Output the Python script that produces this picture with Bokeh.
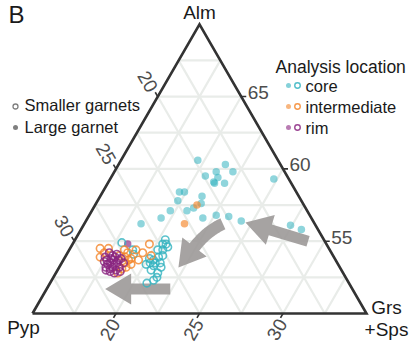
import numpy as np
from bokeh.plotting import figure
from bokeh.models import Range1d
from bokeh.embed import file_html
from bokeh.resources import INLINE
from bokeh.core.properties import value

FONT = value("Liberation Sans")

# ---------------- ternary window (Alm / Pyp / Grs+Sps, mol %) ----------------
ALM_MIN, PYP_MIN, GRS_MIN, SPAN = 50.0, 15.0, 15.0, 20.0
ALM_TICKS = [55, 60, 65]
PYP_TICKS = [20, 25, 30]
GRS_TICKS = [20, 25, 30]
GRID_STEPS = [2.5, 5.0, 7.5, 10.0, 12.5, 15.0, 17.5]

# ---------------- data ----------------
# Large garnet (filled)
large_core_alm = [60.6, 60.3, 59.5, 59.8, 59.4, 59.1, 59.0, 59.0, 59.8, 59.3, 58.4, 58.4, 57.8,
                  58.1, 57.6, 57.3, 57.1, 57.1, 56.6, 56.2, 56.6, 56.8, 56.7, 56.4, 56.1, 55.8]
large_core_pyp = [19.8, 18.3, 19.9, 19.1, 19.2, 19.6, 19.6, 19.0, 18.1, 15.9, 22.0, 21.7, 22.4,
                  20.8, 21.1, 21.7, 22.2, 23.2, 24.0, 25.4, 21.5, 20.6, 19.9, 19.3, 16.5, 16.0]
large_core_grs = [19.6, 21.4, 20.6, 21.1, 21.4, 21.3, 21.4, 22.0, 22.1, 24.8, 19.6, 19.9, 19.8,
                  21.1, 21.3, 21.0, 20.7, 19.7, 19.4, 18.4, 21.9, 22.6, 23.4, 24.3, 27.4, 28.2]
large_int_alm = [57.5, 56.2]
large_int_pyp = [21.4, 22.8]
large_int_grs = [21.1, 21.0]
large_rim_alm = [54.8]
large_rim_pyp = [26.9]
large_rim_grs = [18.3]

# Smaller garnets (hollow)
small_rim_alm = [53.9, 54.2, 54.0, 54.1, 53.6, 53.7, 53.5, 53.7, 53.5, 53.2, 53.1, 53.2, 53.0,
                 53.2, 52.9, 52.9, 53.9, 53.8, 53.4, 53.4, 53.5, 53.7, 53.8, 53.0, 52.8]
small_rim_pyp = [28.7, 28.3, 28.2, 27.9, 28.9, 28.7, 28.6, 28.3, 28.2, 29.0, 28.8, 28.6, 28.5,
                 28.2, 28.9, 28.3, 28.1, 27.8, 28.8, 28.4, 27.8, 28.0, 28.4, 29.1, 28.7]
small_rim_grs = [17.4, 17.5, 17.8, 18.0, 17.5, 17.6, 17.9, 18.0, 18.3, 17.8, 18.1, 18.2, 18.5,
                 18.6, 18.2, 18.8, 18.0, 18.4, 17.8, 18.2, 18.7, 18.3, 17.8, 17.9, 18.5]
small_int_alm = [54.5, 54.5, 54.4, 54.0, 53.9, 53.7, 53.5, 53.8, 53.1, 53.2, 54.2, 53.9, 54.2,
                 53.4, 52.8, 54.8, 54.4, 54.0, 53.7, 54.2]
small_int_pyp = [28.7, 28.2, 27.3, 27.8, 27.5, 27.4, 27.7, 27.2, 28.1, 27.8, 28.6, 29.0, 27.2,
                 27.4, 28.5, 25.6, 26.6, 25.9, 26.8, 26.3]
small_int_grs = [16.8, 17.3, 18.3, 18.2, 18.6, 18.9, 18.8, 19.0, 18.8, 19.0, 17.2, 17.1, 18.6,
                 19.2, 18.7, 19.6, 19.0, 20.1, 19.5, 19.5]
small_core_alm = [54.9, 54.4, 55.1, 54.8, 54.6, 54.4, 54.0, 53.7, 53.5, 53.3, 53.0, 52.8, 53.2,
                  52.5, 52.3, 52.1, 53.5, 54.4, 53.4, 53.8, 54.1, 53.9, 54.8, 53.5]
small_core_pyp = [27.2, 26.8, 24.5, 24.8, 24.6, 25.3, 25.2, 25.9, 25.6, 26.1, 26.4, 26.1, 25.7,
                  26.3, 26.6, 27.1, 25.9, 25.0, 26.5, 26.1, 26.9, 25.5, 24.6, 26.2]
small_core_grs = [17.9, 18.8, 20.4, 20.4, 20.8, 20.3, 20.8, 20.4, 20.9, 20.6, 20.6, 21.1, 21.1,
                  21.2, 21.1, 20.8, 20.6, 20.6, 20.1, 20.1, 19.0, 20.6, 20.6, 20.3]

# Trend arrows (ternary compositions: Alm, Pyp, Grs+Sps)
arrow_right = [(55.0, 16.0, 29.0), (56.3, 19.1, 24.6)]      # tail, tip
arrow_bottom = [(51.7, 25.9, 22.4), (51.7, 29.8, 18.5)]     # tail, tip
arrow_curved = [(56.2, 20.5, 23.3), (55.7, 21.7, 22.6), (54.6, 23.0, 22.4)]  # tail, ctrl, head base

CORE, INTER, RIM = "#33b3bf", "#f4862a", "#8a2480"

# ---------------- helpers ----------------
S = 334.0  # pixels per unit side length
W, H = 415, 344


def tern(alm, pyp, grs):
    alm = np.asarray(alm, float); pyp = np.asarray(pyp, float); grs = np.asarray(grs, float)
    tot = alm + pyp + grs
    a = (alm * 100 / tot - ALM_MIN) / SPAN
    g = (grs * 100 / tot - GRS_MIN) / SPAN
    return g + a / 2, a * np.sqrt(3) / 2


def px(X, Y):
    return (X - 32) / S, (313 - Y) / S


p = figure(width=W, height=H, output_backend="svg", toolbar_location=None,
           x_range=Range1d((0 - 32) / S, (W - 32) / S),
           y_range=Range1d((313 - H) / S, (313 - 0) / S),
           x_axis_location=None, y_axis_location=None, min_border=0,
           outline_line_color=None, background_fill_color="white",
           border_fill_color="white")
p.xgrid.visible = False
p.ygrid.visible = False

# ---------------- ternary grid ----------------
gx, gy = [], []
for st in GRID_STEPS:
    v = ALM_MIN + st
    x0, y0 = tern(v, 100 - v - GRS_MIN, GRS_MIN); x1, y1 = tern(v, PYP_MIN, 100 - v - PYP_MIN)
    gx.append([float(x0), float(x1)]); gy.append([float(y0), float(y1)])
    v = PYP_MIN + st
    x0, y0 = tern(100 - v - GRS_MIN, v, GRS_MIN); x1, y1 = tern(ALM_MIN, v, 100 - v - ALM_MIN)
    gx.append([float(x0), float(x1)]); gy.append([float(y0), float(y1)])
    v = GRS_MIN + st
    x0, y0 = tern(100 - v - PYP_MIN, PYP_MIN, v); x1, y1 = tern(ALM_MIN, 100 - v - ALM_MIN, v)
    gx.append([float(x0), float(x1)]); gy.append([float(y0), float(y1)])
p.multi_line(gx, gy, line_color="#e9ece9", line_width=2.2)


# ---------------- arrows ----------------
def unit(v):
    return v / np.hypot(v[0], v[1])


SH, HW, HL = 5.5 / S, 15.5 / S, 26.0 / S  # shaft half width, head half width, head length


def straight_arrow(tail, tip):
    T = np.array([float(c) for c in tern(*tail)])
    Hd = np.array([float(c) for c in tern(*tip)])
    u = unit(Hd - T); n = np.array([-u[1], u[0]])
    B = Hd - u * HL
    pts = [T + n * SH, B + n * SH, B + n * HW, Hd, B - n * HW, B - n * SH, T - n * SH]
    return [q[0] for q in pts], [q[1] for q in pts]


def curved_arrow(tail, ctrl, base):
    T = np.array([float(c) for c in tern(*tail)])
    C = np.array([float(c) for c in tern(*ctrl)])
    B = np.array([float(c) for c in tern(*base)])
    t = np.linspace(0, 1, 30)[:, None]
    pts = (1 - t) ** 2 * T + 2 * (1 - t) * t * C + t ** 2 * B
    der = 2 * (1 - t) * (C - T) + 2 * t * (B - C)
    der = der / np.hypot(der[:, 0], der[:, 1])[:, None]
    nrm = np.column_stack([-der[:, 1], der[:, 0]])
    left = pts + nrm * SH * 1.1
    right = pts - nrm * SH * 1.1
    u = der[-1]; n = nrm[-1]
    Hd = B + u * HL
    poly = list(left) + [B + n * HW, Hd, B - n * HW] + list(right[::-1])
    return [q[0] for q in poly], [q[1] for q in poly]


axs, ays = [], []
for a in (straight_arrow(*arrow_right), straight_arrow(*arrow_bottom), curved_arrow(*arrow_curved)):
    axs.append(a[0]); ays.append(a[1])
p.patches(axs, ays, fill_color="#9c9998", fill_alpha=0.9, line_color=None)

# ---------------- triangle frame + ticks ----------------
tri_x, tri_y = tern([ALM_MIN, ALM_MIN, ALM_MIN + SPAN, ALM_MIN],
                    [PYP_MIN + SPAN, PYP_MIN, PYP_MIN, PYP_MIN + SPAN],
                    [GRS_MIN, GRS_MIN + SPAN, GRS_MIN, GRS_MIN])
p.line(tri_x, tri_y, line_color="#333333", line_width=2.6, line_join="miter")

TL = 5.0 / S
tkx, tky = [], []
lab_x, lab_y, lab_t, lab_a = [], [], [], []
for v in ALM_TICKS:
    x, y = tern(v, PYP_MIN, 100 - v - PYP_MIN)
    tkx.append([float(x), float(x) + TL]); tky.append([float(y), float(y)])
    lab_x.append(float(x) + 17 / S); lab_y.append(float(y) + 4 / S); lab_t.append(str(v)); lab_a.append(0.0)
for v in PYP_TICKS:
    x, y = tern(100 - v - GRS_MIN, v, GRS_MIN)
    tkx.append([float(x), float(x) - 0.5 * TL]); tky.append([float(y), float(y) + 0.866 * TL])
    lab_x.append(float(x) - 10 / S); lab_y.append(float(y) + 15 / S); lab_t.append(str(v)); lab_a.append(-np.pi / 3)
for v in GRS_TICKS:
    x, y = tern(ALM_MIN, 100 - v - ALM_MIN, v)
    tkx.append([float(x), float(x) - 0.5 * TL]); tky.append([float(y), float(y) - 0.866 * TL])
    lab_x.append(float(x) - 6 / S); lab_y.append(float(y) - 16 / S); lab_t.append(str(v)); lab_a.append(np.pi / 3)
p.multi_line(tkx, tky, line_color="#333333", line_width=1.6)
p.text(lab_x, lab_y, text=lab_t, angle=lab_a, text_align="center", text_baseline="middle",
       text_font=FONT, text_font_size="19px", text_color="#4d4d4d")

# ---------------- data points ----------------
for alm, pyp, grs, col, fa in ((large_core_alm, large_core_pyp, large_core_grs, CORE, 0.55),
                               (large_int_alm, large_int_pyp, large_int_grs, INTER, 0.65),
                               (large_rim_alm, large_rim_pyp, large_rim_grs, RIM, 0.65)):
    x, y = tern(alm, pyp, grs)
    p.scatter(x, y, size=7.5, fill_color=col, fill_alpha=fa, line_color=None)

for alm, pyp, grs, col in ((small_core_alm, small_core_pyp, small_core_grs, CORE),
                           (small_int_alm, small_int_pyp, small_int_grs, INTER),
                           (small_rim_alm, small_rim_pyp, small_rim_grs, RIM)):
    x, y = tern(alm, pyp, grs)
    p.scatter(x, y, size=7.5, fill_color=None, line_color=col, line_alpha=0.8, line_width=1.6)


# ---------------- vertex labels, panel letter ----------------
def txt(X, Y, s, size, align="center", color="#1a1a1a"):
    x, y = px(X, Y)
    p.text([x], [y], text=[s], text_align=align, text_baseline="middle",
           text_font=FONT, text_font_size=size, text_color=color)


txt(199, 12, "Alm", "19px")
txt(23, 327, "Pyp", "19px")
txt(386, 306.5, "Grs", "19px")
txt(386, 328.5, "+Sps", "19px")
txt(8, 13.5, "B", "24px", align="left")

# ---------------- legends ----------------
txt(24, 104.5, "Smaller garnets", "16.5px", align="left")
txt(24, 126.5, "Large garnet", "16.5px", align="left")
lx, ly = px(15, 106)
p.scatter([lx], [ly], size=5, fill_color=None, line_color="#808080", line_width=1.3)
lx, ly = px(15, 127)
p.scatter([lx], [ly], size=5, fill_color="#808080", line_color=None)

txt(275, 66.5, "Analysis location", "17.5px", align="left")
for name, col, ym in (("core", CORE, 85), ("intermediate", INTER, 106), ("rim", RIM, 127)):
    txt(305, ym, name, "16.5px", align="left")
    fx, fy = px(288, ym)
    p.scatter([fx], [fy], size=5, fill_color=col, fill_alpha=0.6, line_color=None)
    hx, hy = px(297, ym)
    p.scatter([hx], [hy], size=5.5, fill_color=None, line_color=col, line_alpha=0.85, line_width=1.4)

open("out.html", "w").write(file_html(p, INLINE))
